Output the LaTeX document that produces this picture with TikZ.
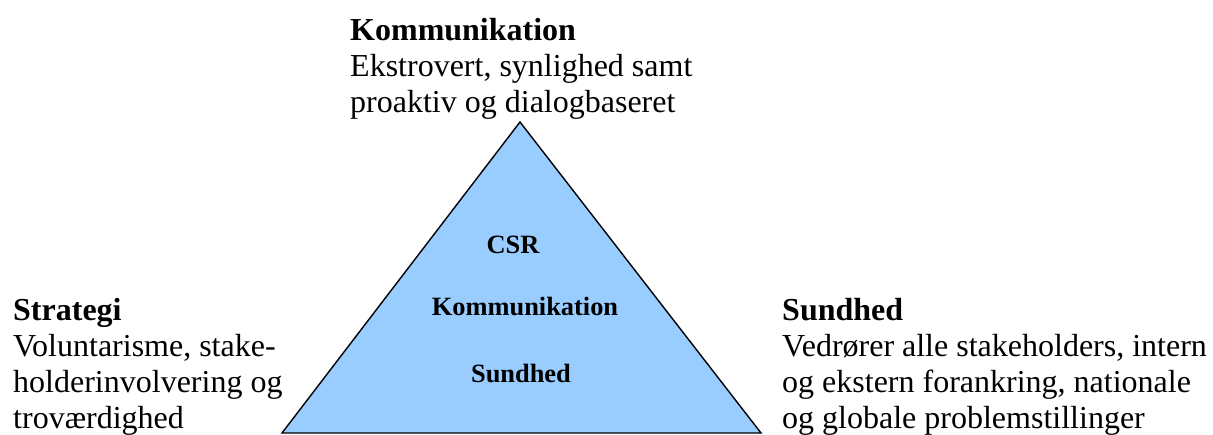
\documentclass[tikz,border=0pt]{standalone}
\usepackage{fontspec}
\setmainfont{Liberation Serif}
\begin{document}
\begin{tikzpicture}[x=1pt,y=-1pt,
  blocktext/.style={anchor=base west,inner sep=0pt,align=left,
    font=\fontsize{32}{36}\selectfont},
  innertext/.style={anchor=base,inner sep=0pt,
    font=\fontsize{26.4}{30}\selectfont\bfseries},
  pyramid/.style={draw=black,line width=1.4pt,fill=skyfill,line join=miter}]
\definecolor{skyfill}{HTML}{99CCFF}
\useasboundingbox (0,0) rectangle (1213,434);

% the triangle
\coordinate (apex) at (520,122);
\coordinate (bl) at (282,433);
\coordinate (br) at (761,433);
\filldraw[pyramid] (apex) -- (bl) -- (br) -- cycle;

% labels inside the triangle
\node[innertext] (csr) at (513,253) {CSR};
\node[innertext] (komm) at (525,315) {Kommunikation};
\node[innertext] (sund) at (521,382) {Sundhed};

% the three corner descriptions (anchored on their last line)
\node[blocktext] (top) at (350,112) {\textbf{Kommunikation}\\Ekstrovert, synlighed samt\\proaktiv og dialogbaseret};
\node[blocktext] (left) at (13,428) {\textbf{Strategi}\\Voluntarisme, stake-\\holderinvolvering og\\troværdighed};
\node[blocktext] (right) at (782,428) {\textbf{Sundhed}\\Vedrører alle stakeholders, intern\\og ekstern forankring, nationale\\og globale problemstillinger};
\end{tikzpicture}
\end{document}
